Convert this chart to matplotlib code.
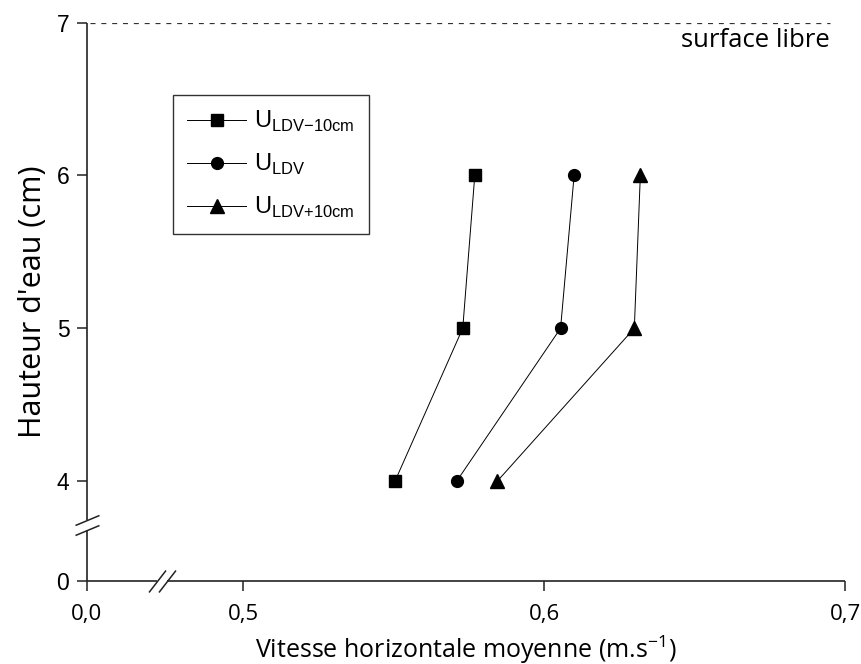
import numpy as np
import matplotlib
matplotlib.use("Agg")
import matplotlib.pyplot as plt
from matplotlib.path import Path

# hauteurs de mesure (cm)
hauteur = [4, 5, 6]
# vitesses horizontales moyennes (m/s)
u_moins10 = [0.5505, 0.573, 0.577]
u_ldv = [0.571, 0.6055, 0.610]
u_plus10 = [0.5845, 0.630, 0.632]

labels = [r"U$_{\mathregular{LDV{-}10cm}}$", r"U$_{\mathregular{LDV}}$",
          r"U$_{\mathregular{LDV{+}10cm}}$"]
x_ticks = [0.0, 0.5, 0.6, 0.7]
x_ticklabels = ["0,0", "0,5", "0,6", "0,7"]
y_ticks = [0, 4, 5, 6, 7]
surface = 7


# axes coupes : on comprime 0-0.5 en x et 0-4 en y
def fx(x):
    x = np.asarray(x, float)
    return np.where(x <= 0.5, x * 156.3 / 0.5, 156.3 + (x - 0.5) * 3010)


def fx_inv(u):
    u = np.asarray(u, float)
    return np.where(u <= 156.3, u * 0.5 / 156.3, 0.5 + (u - 156.3) / 3010)


def fy(y):
    y = np.asarray(y, float)
    return np.where(y <= 4, y * 25, 100 + (y - 4) * 153)


def fy_inv(v):
    v = np.asarray(v, float)
    return np.where(v <= 100, v / 25, 4 + (v - 100) / 153)


plt.rcParams["lines.scale_dashes"] = False
fig = plt.figure(figsize=(8.62, 6.64), dpi=100)
ax = fig.add_axes([0.1006, 0.125, 0.8797, 0.841])
ax.set_xscale("function", functions=(fx, fx_inv))
ax.set_yscale("function", functions=(fy, fy_inv))
ax.set_xlim(0, 0.7)
ax.set_ylim(0, 7)

style = dict(color="black", lw=0.7)
ax.plot(u_moins10, hauteur, marker="s", ms=8, label=labels[0], **style)
ax.plot(u_ldv, hauteur, marker="o", ms=8.5, label=labels[1], **style)
ax.plot(u_plus10, hauteur, marker="^", ms=9.5, label=labels[2], **style)

# surface libre
ax.hlines(surface, 0.01, 0.695, colors="#333333", lw=0.9, linestyles=(0, (3.6, 4.2)))
ax.text(0.695, 6.88, "surface libre", ha="right", va="center",
        fontsize=18.5, family="Open Sans")

# axes dessines a la main pour laisser la place aux coupures
for s in ax.spines.values():
    s.set_visible(False)
axc = dict(color="#222222", lw=1.2, clip_on=False, solid_capstyle="butt")
xb, yb = 0.241, 2.24
ax.plot([0, xb - 0.016], [0, 0], **axc)
ax.plot([xb + 0.016, 0.7], [0, 0], **axc)
ax.plot([0, 0], [0, yb - 0.2], **axc)
ax.plot([0, 0], [yb + 0.2, 7], **axc)

codes = [Path.MOVETO, Path.LINETO, Path.MOVETO, Path.LINETO]
cut_x = Path([(-13.5, -11), (3.5, 11), (-3.5, -11), (13.5, 11)], codes)
cut_y = Path([(-12, 0), (12, 10), (-12, -10), (12, 0)], codes)
ax.plot([xb], [0], marker=cut_x, ms=19.4, mfc="none", mec="#222222", mew=1.1,
        clip_on=False, ls="none")
ax.plot([0], [yb], marker=cut_y, ms=17.3, mfc="none", mec="#222222", mew=1.1,
        clip_on=False, ls="none")

ax.set_xticks(x_ticks)
ax.set_xticklabels(x_ticklabels, family="Open Sans", fontsize=16)
ax.set_yticks(y_ticks)
ax.set_yticklabels([str(t) for t in y_ticks], family="Liberation Sans", fontsize=16.5)
ax.minorticks_off()
ax.tick_params(direction="out", length=7.5, width=1.1, color="#222222")
ax.tick_params(axis="x", pad=9)
ax.tick_params(axis="y", pad=5)

ax.set_xlabel(r"Vitesse horizontale moyenne (m.s$^{\mathregular{-1}}$)",
              family="Open Sans", fontsize=18, labelpad=6)
ax.set_ylabel("Hauteur d'eau (cm)", family="Open Sans", fontsize=22, labelpad=6)

leg = ax.legend(loc="upper left", bbox_to_anchor=(173 / 862, 1 - 95 / 664),
                bbox_transform=fig.transFigure, prop={"family": "Liberation Sans", "size": 17},
                fancybox=False, edgecolor="#333333", framealpha=1,
                handlelength=2.5, handletextpad=0.35, labelspacing=0.75,
                borderpad=0.6, borderaxespad=0)
leg.get_frame().set_linewidth(1.0)

fig.savefig("out.png", dpi=100)
